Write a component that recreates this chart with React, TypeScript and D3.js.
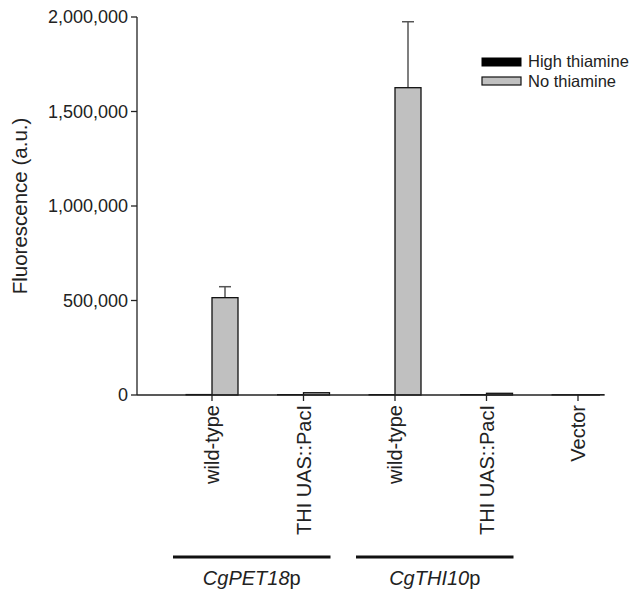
import React from 'react';
import * as d3 from 'd3';

// strains on the x axis
const categories = ['wild-type', 'THI UAS::PacI', 'wild-type ', 'THI UAS::PacI ', 'Vector'];
const highThiamine = [3000, 2500, 2500, 2000, 1500];
const noThiamine = [515000, 12000, 1626000, 9000, 1500];
const noThiamineSd = [58000, 0, 349000, 0, 0];
const yTicks = [0, 500000, 1000000, 1500000, 2000000];
const groups = [
  { label: 'CgPET18', from: 0, to: 1 },
  { label: 'CgTHI10', from: 2, to: 3 },
];

const font = '"Liberation Sans", Arial, sans-serif';

const App = () => {
  const width = 643;
  const height = 592;

  const x = d3.scalePoint<string>()
    .domain(categories)
    .range([212, 578]);

  const y = d3.scaleLinear()
    .domain([0, 2000000])
    .range([395, 17]);

  const barW = 26;
  const fmt = d3.format(',');

  return (
    <svg width={width} height={height} style={{ position: 'absolute', left: 0, top: 0 }}
      fontFamily={font}>
      <rect width={width} height={height} fill="#fff" />

      {/* y axis */}
      <line x1={137} x2={137} y1={y(2000000)} y2={y(0)} stroke="#222" strokeWidth={1.3} />
      {yTicks.map(t => (
        <g key={t}>
          <line x1={131} x2={137} y1={y(t)} y2={y(t)} stroke="#222" strokeWidth={1.3} />
          <text x={128} y={y(t)} dy="0.35em" textAnchor="end" fontSize={18} fill="#222">{fmt(t)}</text>
        </g>
      ))}
      <text transform={`translate(27,${(y(0) + y(2000000)) / 2}) rotate(-90)`} textAnchor="middle"
        fontSize={20.5} fill="#222">Fluorescence (a.u.)</text>

      {/* bars */}
      {categories.map((c, i) => {
        const cx = x(c)!;
        const top = y(noThiamine[i] + noThiamineSd[i]);
        return (
          <g key={c}>
            <rect x={cx - barW} y={y(highThiamine[i])} width={barW} height={y(0) - y(highThiamine[i])}
              fill="#000" stroke="#000" strokeWidth={1} />
            {noThiamineSd[i] > 0 && (
              <g stroke="#555" strokeWidth={1.5}>
                <line x1={cx + barW / 2} x2={cx + barW / 2} y1={y(noThiamine[i])} y2={top} />
                <line x1={cx + barW / 2 - 6} x2={cx + barW / 2 + 6} y1={top} y2={top} />
              </g>
            )}
            <rect x={cx} y={y(noThiamine[i])} width={barW} height={y(0) - y(noThiamine[i])}
              fill="#c0c0c0" stroke="#111" strokeWidth={1.3} />
          </g>
        );
      })}

      {/* x axis */}
      <line x1={137} x2={600} y1={y(0)} y2={y(0)} stroke="#222" strokeWidth={1.3} />
      {categories.map(c => (
        <g key={c}>
          <line x1={x(c)} x2={x(c)} y1={y(0)} y2={y(0) + 6} stroke="#222" strokeWidth={1.3} />
          <text transform={`translate(${x(c)},${y(0) + 10}) rotate(-90)`} dy="0.35em" textAnchor="end"
            fontSize={20} fill="#222">{c.trim()}</text>
        </g>
      ))}

      {/* promoter groups */}
      {groups.map(g => {
        const x1 = x(categories[g.from])! - 39;
        const x2 = x(categories[g.to])! + 27;
        return (
          <g key={g.label}>
            <line x1={x1} x2={x2} y1={557} y2={557} stroke="#111" strokeWidth={3} />
            <text x={(x1 + x2) / 2} y={585} textAnchor="middle" fontSize={20} fill="#222">
              <tspan fontStyle="italic">{g.label}</tspan>p
            </text>
          </g>
        );
      })}

      {/* legend */}
      <g>
        <rect x={482} y={58} width={39} height={8} fill="#000" stroke="#000" />
        <text x={528} y={61} dy="0.35em" fontSize={16.5} fill="#222">High thiamine</text>
        <rect x={482} y={77} width={39} height={8} fill="#c0c0c0" stroke="#111" strokeWidth={1.2} />
        <text x={528} y={81} dy="0.35em" fontSize={16.5} fill="#222">No thiamine</text>
      </g>
    </svg>
  );
};

export default App;
